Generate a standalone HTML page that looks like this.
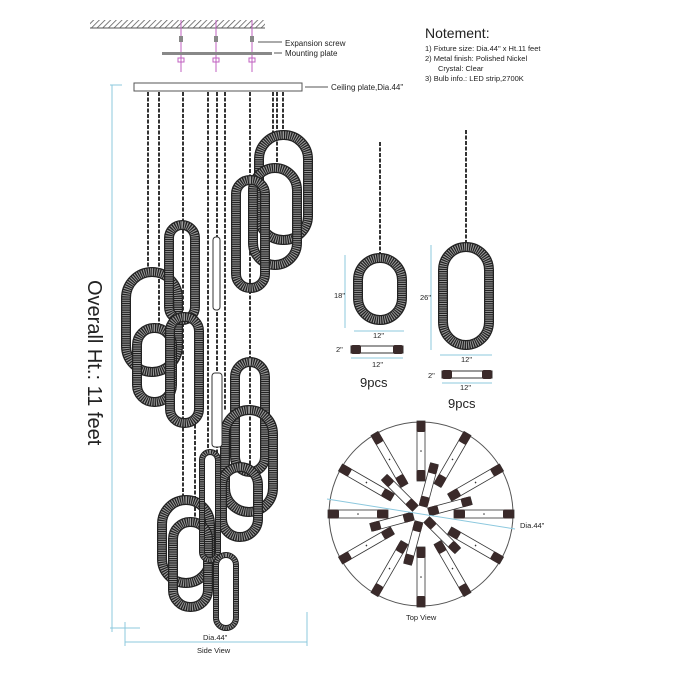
<!DOCTYPE html>
<html><head><meta charset="utf-8"><style>
body{margin:0;background:#fff;width:700px;height:700px;overflow:hidden}
svg{display:block}
text{font-family:"Liberation Sans",sans-serif;fill:#222}
.r{fill:none;stroke:#222;stroke-width:10}
.r2{fill:none;stroke:#9a9a9a;stroke-width:7.5;stroke-dasharray:1 1.2}
.n{fill:none;stroke:#222;stroke-width:6}
.n2{fill:none;stroke:#999;stroke-width:4;stroke-dasharray:1 1.2}
.ch{stroke:#333;stroke-width:2;stroke-dasharray:4 1.5;fill:none}
.dim{stroke:#8cc8de;stroke-width:1;fill:none}
</style></head><body>
<svg width="700" height="700" viewBox="0 0 700 700">
<defs>
<pattern id="hatch" width="4" height="4" patternUnits="userSpaceOnUse" patternTransform="rotate(45)"><line x1="0" y1="0" x2="0" y2="4" stroke="#555" stroke-width="1.5"/></pattern>
<g id="bar"><rect x="-4" y="-30" width="8" height="60" fill="#fff" stroke="#333" stroke-width="0.8"/><rect x="-4.5" y="-30" width="9" height="11" rx="2" fill="#3a2a2a"/><rect x="-4.5" y="19" width="9" height="11" rx="2" fill="#3a2a2a"/><circle r="0.8" fill="#333"/></g>
<g id="ibar"><rect x="-4" y="-22" width="8" height="44" fill="#fff" stroke="#333" stroke-width="0.8"/><rect x="-4.5" y="-22" width="9" height="10" rx="2" fill="#3a2a2a"/><rect x="-4.5" y="12" width="9" height="10" rx="2" fill="#3a2a2a"/></g>
</defs>
<rect x="90" y="20" width="175" height="8" fill="url(#hatch)"/>
<line x1="90" y1="28" x2="265" y2="28" stroke="#555"/>
<g stroke="#c060c0" stroke-width="1"><line x1="181" y1="20" x2="181" y2="72"/><line x1="216" y1="20" x2="216" y2="72"/><line x1="252" y1="20" x2="252" y2="72"/></g>
<g fill="#888"><rect x="179" y="36" width="4" height="6"/><rect x="214" y="36" width="4" height="6"/><rect x="250" y="36" width="4" height="6"/></g>
<rect x="162" y="52" width="110" height="3" fill="#888"/>
<g fill="none" stroke="#c060c0"><rect x="178" y="58" width="6" height="4"/><rect x="213" y="58" width="6" height="4"/><rect x="249" y="58" width="6" height="4"/></g>
<line x1="258" y1="42" x2="282" y2="42" stroke="#555"/><text x="285" y="46" font-size="8">Expansion screw</text>
<line x1="274" y1="53" x2="282" y2="53" stroke="#555"/><text x="285" y="56" font-size="8">Mounting plate</text>
<rect x="134" y="83" width="168" height="8" fill="#fff" stroke="#555"/>
<line x1="305" y1="87" x2="328" y2="87" stroke="#555"/><text x="331" y="90" font-size="8">Ceiling plate,Dia.44"</text>
<text x="425" y="38" font-size="14">Notement:</text>
<text x="425" y="51" font-size="7.5">1) Fixture size: Dia.44" x Ht.11 feet</text>
<text x="425" y="61" font-size="7.5">2) Metal finish: Polished Nickel</text>
<text x="438" y="71" font-size="7.5">Crystal: Clear</text>
<text x="425" y="81" font-size="7.5">3) Bulb info.: LED strip,2700K</text>
<line class="dim" x1="112" y1="85" x2="112" y2="632"/>
<line class="dim" x1="110" y1="85" x2="122" y2="85"/>
<text transform="translate(88,280) rotate(90)" font-size="20">Overall Ht.: 11 feet</text>
<g class="ch">
<line x1="148" y1="92" x2="148" y2="272"/><line x1="159" y1="92" x2="159" y2="330"/>
<line x1="183" y1="92" x2="183" y2="500"/><line x1="208" y1="92" x2="208" y2="452"/>
<line x1="217" y1="92" x2="217" y2="555"/><line x1="225" y1="92" x2="225" y2="410"/>
<line x1="250" y1="92" x2="250" y2="467"/><line x1="273" y1="92" x2="273" y2="135"/>
<line x1="277" y1="92" x2="277" y2="168"/><line x1="283" y1="92" x2="283" y2="140"/>
<line x1="195" y1="320" x2="195" y2="522"/>
</g>
<g>
<rect class="r" x="126" y="272" width="52" height="100" rx="26"/><rect class="r2" x="126" y="272" width="52" height="100" rx="26"/>
<rect class="r" x="137" y="328" width="35" height="74" rx="17"/><rect class="r2" x="137" y="328" width="35" height="74" rx="17"/>
<rect class="r" x="169" y="225" width="26" height="95" rx="13"/><rect class="r2" x="169" y="225" width="26" height="95" rx="13"/>
<rect class="r" x="170" y="317" width="29" height="106" rx="14"/><rect class="r2" x="170" y="317" width="29" height="106" rx="14"/>
<rect class="r" x="259" y="135" width="49" height="105" rx="24"/><rect class="r2" x="259" y="135" width="49" height="105" rx="24"/>
<rect class="r" x="253" y="168" width="44" height="97" rx="22"/><rect class="r2" x="253" y="168" width="44" height="97" rx="22"/>
<rect class="r" x="236" y="180" width="29" height="108" rx="14"/><rect class="r2" x="236" y="180" width="29" height="108" rx="14"/>
<rect class="r" x="235" y="362" width="30" height="110" rx="15"/><rect class="r2" x="235" y="362" width="30" height="110" rx="15"/>
<rect class="r" x="225" y="410" width="48" height="102" rx="24"/><rect class="r2" x="225" y="410" width="48" height="102" rx="24"/>
<rect class="r" x="222" y="467" width="36" height="70" rx="18"/><rect class="r2" x="222" y="467" width="36" height="70" rx="18"/>
<rect class="r" x="162" y="500" width="48" height="83" rx="24"/><rect class="r2" x="162" y="500" width="48" height="83" rx="24"/>
<rect class="r" x="173" y="522" width="35" height="85" rx="17"/><rect class="r2" x="173" y="522" width="35" height="85" rx="17"/>
<rect class="n" x="202" y="452" width="16" height="108" rx="8"/><rect class="n2" x="202" y="452" width="16" height="108" rx="8"/>
<rect class="n" x="216" y="555" width="20" height="73" rx="10"/><rect class="n2" x="216" y="555" width="20" height="73" rx="10"/>
<rect x="212" y="373" width="10" height="74" rx="3" fill="#fff" stroke="#333"/>
<rect x="213" y="237" width="7" height="73" rx="3" fill="#fff" stroke="#333"/>
</g>
<line class="dim" x1="125" y1="642" x2="307" y2="642"/>
<line class="dim" x1="125" y1="622" x2="125" y2="646"/><line class="dim" x1="307" y1="612" x2="307" y2="646"/>
<line class="dim" x1="110" y1="628" x2="140" y2="628"/>
<text x="203" y="640" font-size="7.5">Dia.44"</text>
<text x="197" y="653" font-size="7.5">Side View</text>
<line class="ch" x1="380" y1="142" x2="380" y2="257"/>
<rect class="r" x="358" y="258" width="44" height="62" rx="22"/><rect class="r2" x="358" y="258" width="44" height="62" rx="22"/>
<line class="dim" x1="345" y1="255" x2="345" y2="328"/><text x="334" y="298" font-size="7.5">18"</text>
<line class="dim" x1="354" y1="331" x2="404" y2="331"/><text x="373" y="338" font-size="7.5">12"</text>
<rect x="351" y="346" width="52" height="7" fill="#fff" stroke="#333"/><rect x="351" y="345" width="10" height="9" rx="2" fill="#3a2a2a"/><rect x="393" y="345" width="10" height="9" rx="2" fill="#3a2a2a"/>
<text x="336" y="352" font-size="7.5">2"</text>
<line class="dim" x1="351" y1="358" x2="403" y2="358"/><text x="372" y="367" font-size="7.5">12"</text>
<text x="360" y="387" font-size="13">9pcs</text>
<line class="ch" x1="466" y1="130" x2="466" y2="246"/>
<rect class="r" x="443" y="247" width="46" height="98" rx="23"/><rect class="r2" x="443" y="247" width="46" height="98" rx="23"/>
<line class="dim" x1="431" y1="245" x2="431" y2="350"/><text x="420" y="300" font-size="7.5">26"</text>
<line class="dim" x1="440" y1="355" x2="492" y2="355"/><text x="461" y="362" font-size="7.5">12"</text>
<rect x="442" y="371" width="50" height="7" fill="#fff" stroke="#333"/><rect x="442" y="370" width="10" height="9" rx="2" fill="#3a2a2a"/><rect x="482" y="370" width="10" height="9" rx="2" fill="#3a2a2a"/>
<text x="428" y="378" font-size="7.5">2"</text>
<line class="dim" x1="442" y1="383" x2="492" y2="383"/><text x="460" y="390" font-size="7.5">12"</text>
<text x="448" y="408" font-size="13">9pcs</text>
<circle cx="421" cy="514" r="92" fill="none" stroke="#555"/>
<g transform="translate(421,514)">
<g transform="rotate(0) translate(0,-63)"><use href="#bar"/></g>
<g transform="rotate(30) translate(0,-63)"><use href="#bar"/></g>
<g transform="rotate(60) translate(0,-63)"><use href="#bar"/></g>
<g transform="rotate(90) translate(0,-63)"><use href="#bar"/></g>
<g transform="rotate(120) translate(0,-63)"><use href="#bar"/></g>
<g transform="rotate(150) translate(0,-63)"><use href="#bar"/></g>
<g transform="rotate(180) translate(0,-63)"><use href="#bar"/></g>
<g transform="rotate(210) translate(0,-63)"><use href="#bar"/></g>
<g transform="rotate(240) translate(0,-63)"><use href="#bar"/></g>
<g transform="rotate(270) translate(0,-63)"><use href="#bar"/></g>
<g transform="rotate(300) translate(0,-63)"><use href="#bar"/></g>
<g transform="rotate(330) translate(0,-63)"><use href="#bar"/></g>
<g transform="rotate(15) translate(0,-30)"><use href="#ibar"/></g>
<g transform="rotate(75) translate(0,-30)"><use href="#ibar"/></g>
<g transform="rotate(135) translate(0,-30)"><use href="#ibar"/></g>
<g transform="rotate(195) translate(0,-30)"><use href="#ibar"/></g>
<g transform="rotate(255) translate(0,-30)"><use href="#ibar"/></g>
<g transform="rotate(315) translate(0,-30)"><use href="#ibar"/></g>
</g>
<line class="dim" x1="327" y1="499" x2="515" y2="529"/>
<text x="520" y="528" font-size="7.5">Dia.44"</text>
<text x="406" y="620" font-size="7.5">Top View</text>
</svg>
</body></html>
